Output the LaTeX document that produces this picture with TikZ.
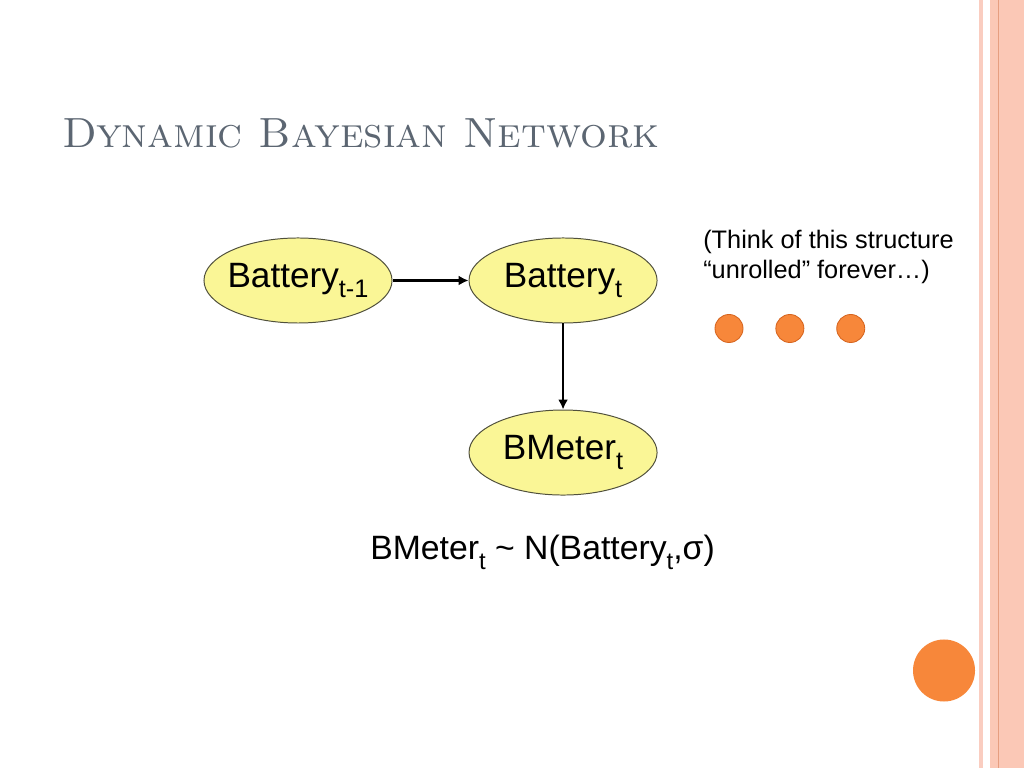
\documentclass[tikz,border=0pt]{standalone}
\usepackage{fontspec}
\newfontfamily\arial{Liberation Sans}
\usetikzlibrary{arrows.meta,positioning,shapes.geometric}

\definecolor{nodefill}{RGB}{250,246,150}
\definecolor{nodeline}{RGB}{80,80,60}
\definecolor{titlegray}{RGB}{92,102,114}
\definecolor{dotorange}{RGB}{247,135,58}
\definecolor{dotline}{RGB}{214,100,30}
\definecolor{stripe}{RGB}{251,200,182}
\definecolor{stripelight}{RGB}{250,205,192}
\definecolor{stripeline}{RGB}{230,158,128}

\newcommand{\low}[2][18]{\raisebox{-7pt}{\fontsize{#1}{#1}\selectfont #2}}

\tikzset{
  rv/.style={ellipse, draw=nodeline, fill=nodefill, line width=0.7pt,
             inner xsep=-0.3cm, inner ysep=0pt,
             minimum width=4.7cm, minimum height=2.125cm,
             font=\arial\fontsize{25}{25}\selectfont},
  dot/.style={circle, fill=dotorange, draw=dotline, line width=0.6pt,
              minimum size=0.7cm, inner sep=0pt}
}

\begin{document}
\begin{tikzpicture}[->,>={Latex[length=7pt,width=7pt]},x=0.025cm,y=0.025cm]
  \useasboundingbox (0,0) rectangle (1024,768);
  \fill[white] (0,0) rectangle (1024,768);
  % slide border on the right
  \fill[stripelight] (979,0) rectangle (983,768);
  \fill[stripe] (990,0) rectangle (1024,768);
  \draw[-,stripeline,line width=0.7pt] (998,0) -- (998,768);

  \node (title) [anchor=base west, inner sep=0pt, text=titlegray,
                 font=\fontsize{30}{30}\selectfont\scshape] at (62,620) {Dynamic Bayesian Network};

  \node (Bprev) [rv] at (298,487.5)          {Battery\low{t-1}};
  \node (Bt)    [rv, right=1.9cm of Bprev]   {Battery\low{t}};
  \node (BM)    [rv, below=2.15cm of Bt]     {BMeter\low{t}};
  \path[line width=2pt] (Bprev) edge (Bt)
                        (Bt)    edge (BM);

  \node (formula) [anchor=base west, inner sep=0pt, font=\arial\fontsize{24}{24}\selectfont]
        at (370,208) {BMeter\low[17]{t} \textasciitilde{} N(Battery\low[17]{t},σ)};

  \node (note) [anchor=north west, align=left, inner sep=0pt,
                font=\arial\fontsize{18}{21}\selectfont]
        at (703,538) {(Think of this structure\\“unrolled” forever…)};

  \node (d1) [dot] at (729,439.5)       {};
  \node (d2) [dot, right=0.8cm of d1]   {};
  \node (d3) [dot, right=0.8cm of d2]   {};

  \node (corner) [dot, draw=none, minimum size=1.55cm] at (944,97.5) {};
\end{tikzpicture}
\end{document}
